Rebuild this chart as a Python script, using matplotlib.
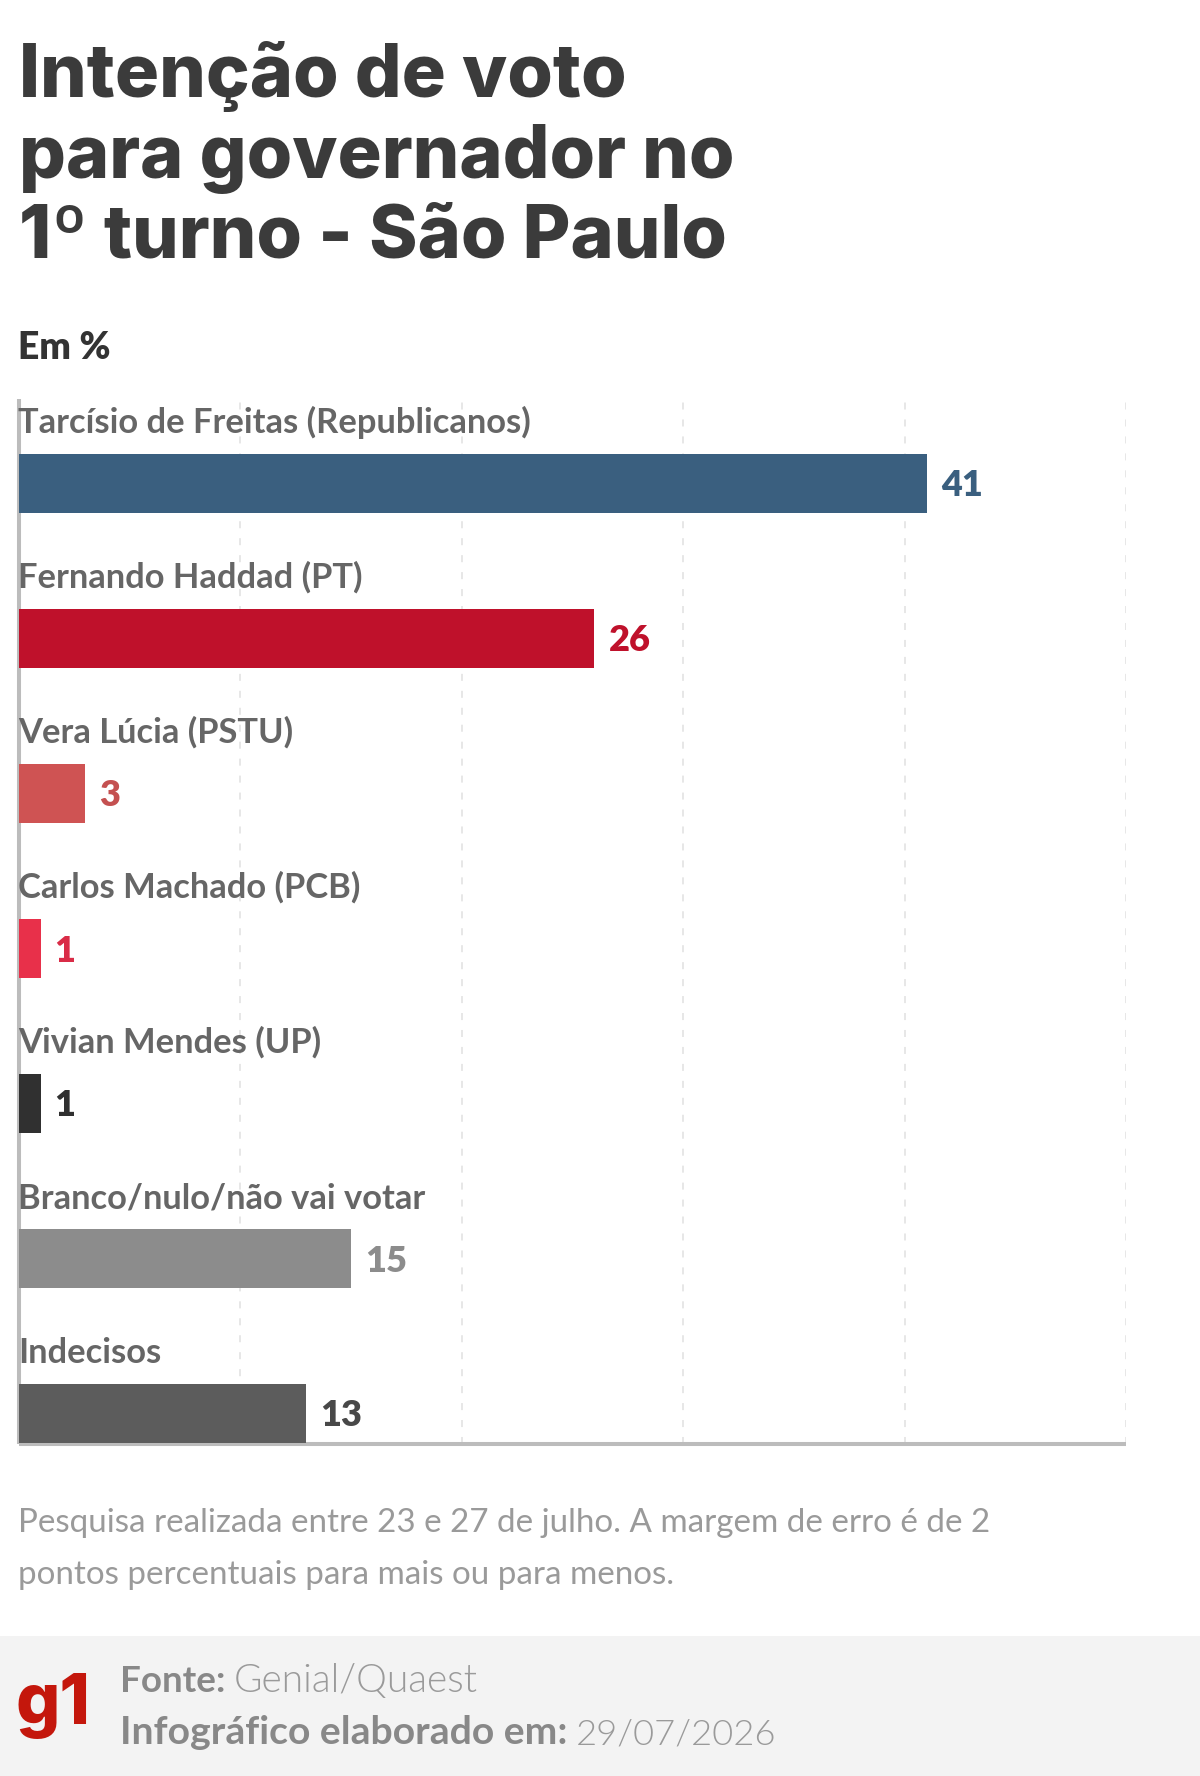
import matplotlib
matplotlib.use("Agg")
import matplotlib.pyplot as plt
from matplotlib.patches import Rectangle

W, H = 1200, 1776
categories = ["Tarcísio de Freitas (Republicanos)", "Fernando Haddad (PT)", "Vera Lúcia (PSTU)",
              "Carlos Machado (PCB)", "Vivian Mendes (UP)", "Branco/nulo/não vai votar", "Indecisos"]
values = [41, 26, 3, 1, 1, 15, 13]
bar_colors = ["#3a5f7f", "#bf112b", "#cf5353", "#e8304a", "#303030", "#8c8c8c", "#5c5c5c"]
value_colors = ["#3a5f7f", "#bf112b", "#c45050", "#d92c47", "#303030", "#8c8c8c", "#484848"]
grid_ticks = [0, 10, 20, 30, 40, 50]
title_lines = ["Intenção de voto", "para governador no", "1º turno - São Paulo"]
note_lines = ["Pesquisa realizada entre 23 e 27 de julho. A margem de erro é de 2",
              "pontos percentuais para mais ou para menos."]

plt.rcParams["font.family"] = ["Lato", "DejaVu Sans"]
fig = plt.figure(figsize=(W / 100, H / 100), dpi=100, facecolor="white")

def T(x, y, s, size, color, weight="normal", family=None, **kw):
    if family:
        kw["family"] = family
    return fig.text(x / W, 1 - y / H, s, fontsize=size, color=color, fontweight=weight, va="baseline", **kw)

# plot area
ax = fig.add_axes([18.5 / W, 1 - 1443.5 / H, (1126 - 18.5) / W, (1443.5 - 399) / H])
ax.set_xlim(0, 50)
ax.set_ylim((1443.5 - 483.5) / 155, (399 - 483.5) / 155)
ypos = list(range(len(values)))
ax.barh(ypos, values, height=59 / 155, color=bar_colors, zorder=3)
ax.set_xticks(grid_ticks)
ax.set_yticks([])
ax.tick_params(length=0, labelbottom=False)
ax.grid(axis="x", color="#e0e0e0", lw=1.1, ls=(0, (4.6, 6.5)), zorder=1)
ax.set_axisbelow(True)
for s in ("top", "right"):
    ax.spines[s].set_visible(False)
for s in ("left", "bottom"):
    ax.spines[s].set_color("#bcbcbc")
    ax.spines[s].set_linewidth(2.9)
    ax.spines[s].set_capstyle("butt")
    ax.spines[s].set_zorder(2)
ax.patch.set_alpha(0)

for i, (c, v, vc) in enumerate(zip(categories, values, value_colors)):
    ax.annotate(c, xy=(0, i), xytext=(0, (483.5 - 433) * 0.72), xycoords="data",
                textcoords="offset points", fontsize=24.8, fontweight="bold", color="#666666",
                va="baseline", ha="left", zorder=5, annotation_clip=False)
    ax.annotate(str(v), xy=(v, i), xytext=(14 * 0.72, -13 * 0.72), xycoords="data",
                textcoords="offset points", fontsize=26, fontweight=800, color=vc,
                va="baseline", ha="left", zorder=5, annotation_clip=False)

# title
for y, s in zip([97, 178, 258], title_lines):
    T(19, y, s, 53, "#3b3b3b", 800, family="Inter")
T(18, 359, "Em %", 26.7, "#333333", 800)

# notes
for y, s in zip([1532, 1584], note_lines):
    T(18, y, s, 23.9, "#9a9a9a")

# footer
fig.add_artist(Rectangle((0, 0), 1, (H - 1636) / H, transform=fig.transFigure,
                         facecolor="#f3f3f3", edgecolor="none", zorder=-5))
T(16, 1724, "g1", 50, "#c4170c", 800, family="Inter")
r = fig.canvas.get_renderer()
for y, a, asize, b, bsize in [(1692, "Fonte:", 26.5, "Genial/Quaest", 28),
                              (1744, "Infográfico elaborado em:", 28.2, "29/07/2026", 26.2)]:
    t = T(120, y, a, asize, "#888888", "bold")
    x1 = t.get_window_extent(r).x1
    T(x1 + 8, y, b, bsize, "#9a9a9a", 300)

fig.savefig("out.png", dpi=100)
